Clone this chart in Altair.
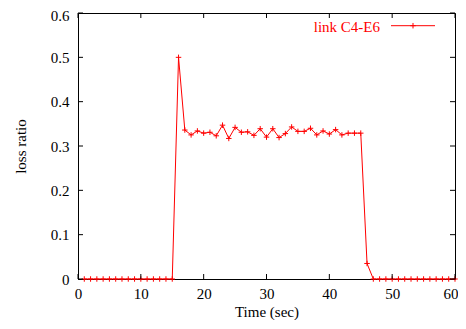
import altair as alt
import pandas as pd

time_sec = list(range(1, 61))
loss_ratio = ([0.0] * 15 +
              [0.5, 0.336, 0.325, 0.334, 0.329, 0.331, 0.323, 0.347, 0.317, 0.342,
               0.331, 0.332, 0.324, 0.339, 0.320, 0.339, 0.319, 0.328, 0.343, 0.333,
               0.333, 0.340, 0.325, 0.334, 0.327, 0.337, 0.325, 0.329, 0.329, 0.329,
               0.035] +
              [0.0] * 14)
x_ticks = [0, 10, 20, 30, 40, 50, 60]
y_ticks = [0, 0.1, 0.2, 0.3, 0.4, 0.5, 0.6]
series_name = ["link C4-E6"]

W, H = 377, 266
RED = "#ff0000"
FONT = "Liberation Serif"

df = pd.DataFrame({"t": time_sec, "v": loss_ratio})
xt = pd.DataFrame({"t": x_ticks})
yt = pd.DataFrame({"v": y_ticks})
leg = pd.DataFrame({"name": series_name})

xs = alt.Scale(domain=[0, 60], nice=False)
ys = alt.Scale(domain=[0, 0.6], nice=False)

xaxis = alt.Axis(values=x_ticks, ticks=False, grid=False, labelPadding=7,
                 labelFlush=False,
                 labelAlign={"condition": {"test": "datum.value == 60", "value": "right"},
                             "value": "center"},
                 labelOffset={"condition": {"test": "datum.value == 60", "value": 3},
                              "value": 0},
                 title="Time (sec)", titleBaseline="bottom", titleY=40)
yaxis = alt.Axis(values=y_ticks, ticks=False, grid=False, labelPadding=9,
                 labelFlush=False,
                 labelOffset={"condition": {"test": "datum.value == 0.6", "value": 2},
                              "value": 0},
                 format=".1~f", title="loss ratio", titlePadding=22)

marker = "M-1,0L1,0M0,-1L0,1"

line = alt.Chart(df).mark_line(color=RED, strokeWidth=1).encode(
    x=alt.X("t:Q", scale=xs, axis=xaxis),
    y=alt.Y("v:Q", scale=ys, axis=yaxis),
)
pts = alt.Chart(df).mark_point(shape=marker, filled=False, color=RED,
                               strokeWidth=1, size=30, opacity=1).encode(
    x=alt.X("t:Q", scale=xs),
    y=alt.Y("v:Q", scale=ys),
)

tb = alt.Chart(xt).mark_rule(color="black", strokeWidth=1).encode(
    x=alt.X("t:Q", scale=xs), y=alt.value(H), y2=alt.value(H - 5))
tt = alt.Chart(xt).mark_rule(color="black", strokeWidth=1).encode(
    x=alt.X("t:Q", scale=xs), y=alt.value(0), y2=alt.value(5))
tl = alt.Chart(yt).mark_rule(color="black", strokeWidth=1).encode(
    y=alt.Y("v:Q", scale=ys), x=alt.value(0), x2=alt.value(5))
tr = alt.Chart(yt).mark_rule(color="black", strokeWidth=1).encode(
    y=alt.Y("v:Q", scale=ys), x=alt.value(W), x2=alt.value(W - 5))

leg_text = alt.Chart(leg).mark_text(align="right", baseline="middle", color=RED,
                                    font=FONT, fontSize=15).encode(
    text="name:N", x=alt.value(302), y=alt.value(13.5))
leg_line = alt.Chart(leg).mark_rule(color=RED, strokeWidth=1).encode(
    x=alt.value(313), x2=alt.value(357), y=alt.value(12.7))
leg_pt = alt.Chart(leg).mark_point(shape=marker, filled=False, color=RED,
                                   strokeWidth=1, size=30, opacity=1).encode(
    x=alt.value(335), y=alt.value(12.7))

chart = alt.layer(line, pts, tb, tt, tl, tr, leg_text, leg_line, leg_pt).properties(
    width=W, height=H,
    autosize=alt.AutoSizeParams(type="none"),
    padding={"left": 70, "top": 5, "right": 3, "bottom": 41},
).configure_view(stroke="black", strokeWidth=1).configure_axis(
    domainColor="black", domainWidth=1,
    labelFont=FONT, labelFontSize=15, labelColor="black",
    titleFont=FONT, titleFontSize=15, titleFontWeight="normal", titleColor="black",
)

chart.save("out.html", embed_options={"renderer": "svg", "actions": False})
